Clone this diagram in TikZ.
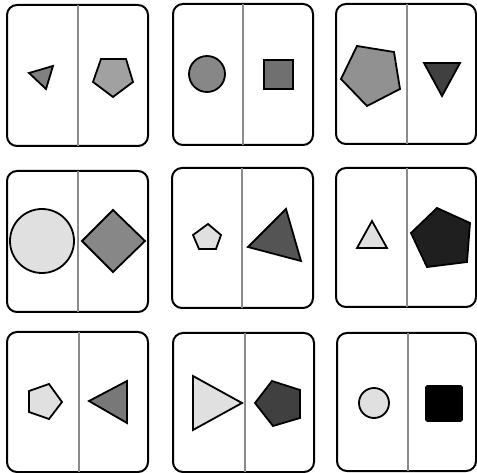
\documentclass[tikz,border=0pt]{standalone}
\begin{document}
\begin{tikzpicture}[x=1pt,y=-1pt,
  panel/.style={draw=black,line width=2pt,rounded corners=10pt,fill=white},
  divider/.style={draw=black!45,line width=1.3pt},
  shp/.style={draw=black,line width=1.8pt,line join=miter,fill=#1}]
\useasboundingbox (0,0) rectangle (477,473);
\fill[white] (0,0) rectangle (477,473);
\definecolor{g1}{gray}{0.88}
% Row 1
\draw[panel] (7,5) rectangle (148,146);
\draw[divider] (78,5) -- (78,146);
\draw[shp=black!50] (29,73) -- (53,66) -- (46,89) -- cycle;
\draw[shp=black!37] (101,59) -- (126,59) -- (133,82) -- (113,97) -- (93,82) -- cycle;

\draw[panel] (173,4) rectangle (313,145);
\draw[divider] (243,4) -- (243,145);
\draw[shp=black!47] (207,74) circle (18);
\draw[shp=black!56] (264,60) rectangle (293,89);

\draw[panel] (336,4) rectangle (476,144);
\draw[divider] (407,4) -- (407,144);
\draw[shp=black!43] (357,46) -- (394,52) -- (400,89) -- (367,106) -- (341,79) -- cycle;
\draw[shp=black!75] (424,63) -- (460,63) -- (442,96) -- cycle;

% Row 2
\draw[panel] (7,171) rectangle (148,312);
\draw[divider] (78,171) -- (78,312);
\draw[shp=g1] (42,241) circle (32);
\draw[shp=black!47] (113,210) -- (145,241) -- (113,272) -- (82,241) -- cycle;

\draw[panel] (172,168) rectangle (313,308);
\draw[divider] (242,168) -- (242,308);
\draw[shp=g1] (208,224) -- (221,235) -- (216,249) -- (199,249) -- (193,235) -- cycle;
\draw[shp=black!67] (286,209) -- (301,261) -- (248,247) -- cycle;

\draw[panel] (336,168) rectangle (476,307);
\draw[divider] (407,168) -- (407,307);
\draw[shp=g1] (372,221) -- (387,248) -- (357,248) -- cycle;
\draw[shp=black!88] (437,208) -- (470,223) -- (467,262) -- (427,267) -- (411,233) -- cycle;

% Row 3
\draw[panel] (7,332) rectangle (148,472);
\draw[divider] (79,332) -- (79,472);
\draw[shp=g1] (49,384) -- (62,402) -- (49,419) -- (29,412) -- (29,391) -- cycle;
\draw[shp=black!53] (127,381) -- (127,423) -- (89,401) -- cycle;

\draw[panel] (173,333) rectangle (314,472);
\draw[divider] (245,333) -- (245,472);
\draw[shp=g1] (193,376) -- (242,403) -- (193,430) -- cycle;
\draw[shp=black!75] (272,381) -- (300,390) -- (300,418) -- (273,426) -- (255,403) -- cycle;

\draw[panel] (337,333) rectangle (476,471);
\draw[divider] (408,333) -- (408,471);
\draw[shp=g1] (374,403) circle (15);
\draw[draw=black,line width=1.8pt,fill=black,rounded corners=1.5pt] (426,386) rectangle (462,421);
\end{tikzpicture}
\end{document}
